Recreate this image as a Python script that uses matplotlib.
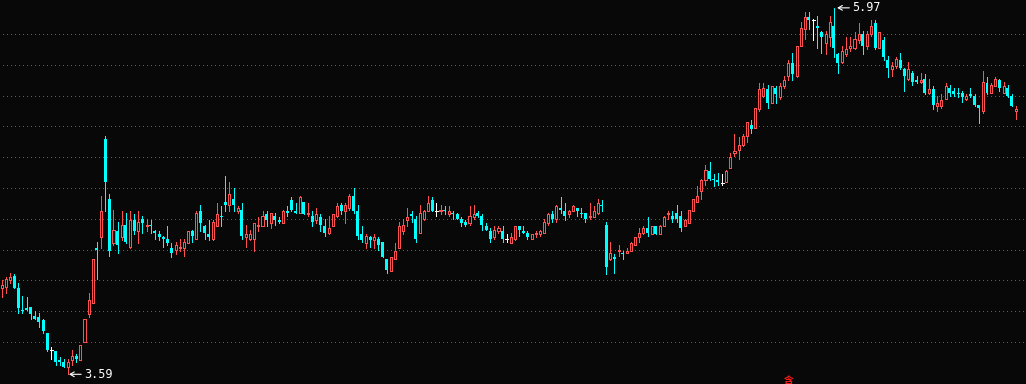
import matplotlib
matplotlib.use("Agg")
import matplotlib.pyplot as plt
from matplotlib.patches import Rectangle

# ----------------------- DATA (daily OHLC) -----------------------
opens = [
    4.15, 4.16, 4.20, 4.23, 4.15, 4.01, 4.02, 4.03, 3.97, 3.96,
    3.94, 3.86, 3.75, 3.74, 3.68, 3.67, 3.64, 3.68, 3.71, 3.68,
    3.80, 3.98, 4.05, 4.41, 4.48, 5.12, 4.73, 4.44, 4.52, 4.48,
    4.56, 4.42, 4.59, 4.52, 4.60, 4.55, 4.56, 4.52, 4.50, 4.48,
    4.47, 4.41, 4.40, 4.41, 4.41, 4.44, 4.52, 4.47, 4.65, 4.55,
    4.50, 4.47, 4.55, 4.62, 4.71, 4.69, 4.73, 4.65, 4.66, 4.48,
    4.47, 4.47, 4.55, 4.55, 4.63, 4.57, 4.62, 4.59, 4.57, 4.65,
    4.72, 4.65, 4.64, 4.71, 4.63, 4.62, 4.59, 4.61, 4.55, 4.51,
    4.55, 4.62, 4.69, 4.65, 4.67, 4.75, 4.65, 4.50, 4.44, 4.48,
    4.46, 4.47, 4.45, 4.34, 4.26, 4.34, 4.41, 4.52, 4.59, 4.63,
    4.60, 4.51, 4.60, 4.65, 4.72, 4.65, 4.65, 4.66, 4.63, 4.64,
    4.63, 4.60, 4.58, 4.57, 4.61, 4.64, 4.62, 4.55, 4.52, 4.48,
    4.52, 4.52, 4.47, 4.44, 4.47, 4.55, 4.52, 4.51, 4.47, 4.50,
    4.50, 4.51, 4.57, 4.63, 4.60, 4.67, 4.65, 4.63, 4.65, 4.67,
    4.64, 4.64, 4.61, 4.61, 4.64, 4.69, 4.56, 4.34, 4.35, 4.39,
    4.38, 4.38, 4.39, 4.43, 4.48, 4.51, 4.54, 4.50, 4.55, 4.50,
    4.55, 4.63, 4.62, 4.64, 4.62, 4.55, 4.57, 4.65, 4.71, 4.78,
    4.85, 4.91, 4.86, 4.85, 4.83, 4.84, 4.93, 5.03, 5.05, 5.08,
    5.14, 5.21, 5.19, 5.31, 5.40, 5.44, 5.35, 5.45, 5.39, 5.46,
    5.53, 5.61, 5.53, 5.72, 5.83, 5.91, 5.89, 5.85, 5.81, 5.74,
    5.78, 5.85, 5.67, 5.62, 5.67, 5.71, 5.71, 5.76, 5.80, 5.72,
    5.80, 5.87, 5.71, 5.76, 5.63, 5.57, 5.59, 5.63, 5.57, 5.51,
    5.55, 5.50, 5.49, 5.51, 5.42, 5.44, 5.33, 5.33, 5.38, 5.45,
    5.43, 5.42, 5.42, 5.38, 5.41, 5.40, 5.34, 5.30, 5.48, 5.42,
    5.46, 5.50, 5.42, 5.45, 5.40, 5.30,
]
highs = [
    4.20, 4.22, 4.25, 4.24, 4.18, 4.10, 4.09, 4.03, 4.00, 3.99,
    3.95, 3.86, 3.77, 3.74, 3.70, 3.69, 3.69, 3.75, 3.72, 3.78,
    3.95, 4.12, 4.34, 4.45, 4.75, 5.14, 4.76, 4.66, 4.58, 4.65,
    4.64, 4.65, 4.63, 4.65, 4.62, 4.60, 4.59, 4.53, 4.52, 4.49,
    4.55, 4.44, 4.45, 4.47, 4.47, 4.52, 4.53, 4.65, 4.69, 4.56,
    4.59, 4.59, 4.70, 4.68, 4.88, 4.84, 4.80, 4.68, 4.70, 4.56,
    4.53, 4.57, 4.61, 4.65, 4.65, 4.64, 4.64, 4.61, 4.66, 4.68,
    4.74, 4.70, 4.75, 4.71, 4.70, 4.65, 4.67, 4.63, 4.60, 4.62,
    4.63, 4.70, 4.70, 4.70, 4.76, 4.80, 4.69, 4.55, 4.50, 4.49,
    4.50, 4.48, 4.45, 4.34, 4.35, 4.44, 4.58, 4.60, 4.67, 4.65,
    4.62, 4.69, 4.66, 4.75, 4.74, 4.70, 4.69, 4.68, 4.68, 4.65,
    4.64, 4.61, 4.59, 4.68, 4.69, 4.65, 4.63, 4.57, 4.54, 4.55,
    4.55, 4.55, 4.50, 4.51, 4.55, 4.55, 4.55, 4.52, 4.50, 4.52,
    4.53, 4.60, 4.64, 4.65, 4.69, 4.74, 4.70, 4.66, 4.69, 4.67,
    4.67, 4.64, 4.70, 4.68, 4.73, 4.72, 4.58, 4.45, 4.37, 4.43,
    4.39, 4.41, 4.45, 4.48, 4.54, 4.55, 4.61, 4.55, 4.55, 4.56,
    4.62, 4.65, 4.65, 4.69, 4.65, 4.60, 4.66, 4.73, 4.81, 4.86,
    4.95, 4.97, 4.89, 4.90, 4.89, 4.92, 5.03, 5.15, 5.13, 5.15,
    5.23, 5.24, 5.32, 5.48, 5.48, 5.47, 5.46, 5.46, 5.48, 5.53,
    5.63, 5.68, 5.72, 5.88, 5.94, 5.94, 5.90, 5.92, 5.82, 5.82,
    5.92, 5.97, 5.68, 5.72, 5.78, 5.78, 5.81, 5.87, 5.82, 5.82,
    5.89, 5.89, 5.81, 5.78, 5.66, 5.62, 5.65, 5.68, 5.58, 5.62,
    5.56, 5.53, 5.55, 5.54, 5.51, 5.46, 5.40, 5.41, 5.48, 5.47,
    5.45, 5.45, 5.43, 5.41, 5.45, 5.41, 5.34, 5.56, 5.52, 5.48,
    5.52, 5.51, 5.49, 5.47, 5.41, 5.33,
]
lows = [
    4.09, 4.12, 4.18, 4.15, 3.99, 3.99, 4.01, 3.95, 3.95, 3.90,
    3.86, 3.74, 3.69, 3.65, 3.65, 3.64, 3.59, 3.65, 3.67, 3.68,
    3.80, 3.96, 4.05, 4.21, 4.41, 4.65, 4.36, 4.43, 4.38, 4.46,
    4.44, 4.41, 4.50, 4.44, 4.51, 4.52, 4.51, 4.47, 4.46, 4.42,
    4.43, 4.35, 4.37, 4.39, 4.36, 4.44, 4.45, 4.47, 4.52, 4.47,
    4.46, 4.46, 4.55, 4.55, 4.65, 4.65, 4.65, 4.64, 4.47, 4.42,
    4.46, 4.39, 4.52, 4.55, 4.55, 4.54, 4.56, 4.57, 4.57, 4.62,
    4.65, 4.64, 4.64, 4.63, 4.62, 4.55, 4.57, 4.52, 4.49, 4.50,
    4.55, 4.61, 4.63, 4.57, 4.66, 4.64, 4.47, 4.45, 4.41, 4.42,
    4.41, 4.40, 4.35, 4.25, 4.26, 4.34, 4.41, 4.50, 4.55, 4.58,
    4.45, 4.51, 4.59, 4.65, 4.65, 4.62, 4.63, 4.63, 4.62, 4.60,
    4.60, 4.55, 4.55, 4.56, 4.60, 4.61, 4.53, 4.53, 4.45, 4.47,
    4.51, 4.45, 4.45, 4.44, 4.46, 4.49, 4.51, 4.47, 4.47, 4.48,
    4.49, 4.51, 4.56, 4.58, 4.58, 4.64, 4.59, 4.61, 4.65, 4.62,
    4.61, 4.58, 4.60, 4.61, 4.63, 4.65, 4.24, 4.33, 4.25, 4.36,
    4.34, 4.38, 4.39, 4.43, 4.45, 4.50, 4.49, 4.50, 4.50, 4.50,
    4.55, 4.60, 4.58, 4.58, 4.52, 4.55, 4.57, 4.65, 4.71, 4.73,
    4.82, 4.85, 4.81, 4.82, 4.82, 4.84, 4.93, 5.01, 4.99, 5.07,
    5.10, 5.16, 5.19, 5.30, 5.39, 5.32, 5.35, 5.35, 5.38, 5.45,
    5.50, 5.50, 5.52, 5.72, 5.77, 5.83, 5.76, 5.71, 5.68, 5.67,
    5.72, 5.65, 5.55, 5.61, 5.66, 5.69, 5.70, 5.74, 5.67, 5.70,
    5.79, 5.70, 5.71, 5.63, 5.52, 5.53, 5.58, 5.57, 5.43, 5.50,
    5.47, 5.48, 5.48, 5.41, 5.41, 5.31, 5.30, 5.32, 5.38, 5.40,
    5.40, 5.39, 5.36, 5.37, 5.39, 5.33, 5.22, 5.29, 5.41, 5.42,
    5.46, 5.43, 5.42, 5.39, 5.33, 5.25,
]
closes = [
    4.17, 4.21, 4.22, 4.15, 4.02, 4.00, 4.01, 3.98, 3.95, 3.93,
    3.87, 3.75, 3.75, 3.67, 3.67, 3.64, 3.67, 3.71, 3.69, 3.78,
    3.95, 4.07, 4.34, 4.40, 4.65, 4.84, 4.39, 4.53, 4.43, 4.56,
    4.45, 4.59, 4.52, 4.58, 4.57, 4.56, 4.55, 4.51, 4.48, 4.47,
    4.44, 4.38, 4.43, 4.42, 4.45, 4.52, 4.49, 4.64, 4.57, 4.51,
    4.48, 4.58, 4.63, 4.61, 4.69, 4.76, 4.69, 4.67, 4.49, 4.50,
    4.50, 4.57, 4.56, 4.62, 4.59, 4.64, 4.59, 4.58, 4.65, 4.64,
    4.66, 4.64, 4.74, 4.63, 4.64, 4.58, 4.63, 4.56, 4.51, 4.54,
    4.63, 4.68, 4.65, 4.69, 4.75, 4.65, 4.49, 4.46, 4.49, 4.46,
    4.48, 4.43, 4.35, 4.27, 4.35, 4.39, 4.55, 4.56, 4.61, 4.62,
    4.47, 4.64, 4.65, 4.70, 4.65, 4.65, 4.66, 4.65, 4.65, 4.63,
    4.60, 4.57, 4.56, 4.62, 4.63, 4.62, 4.56, 4.53, 4.47, 4.53,
    4.54, 4.47, 4.47, 4.48, 4.55, 4.53, 4.51, 4.48, 4.50, 4.51,
    4.52, 4.58, 4.63, 4.60, 4.68, 4.66, 4.62, 4.65, 4.68, 4.65,
    4.63, 4.60, 4.62, 4.65, 4.70, 4.68, 4.29, 4.38, 4.34, 4.40,
    4.37, 4.39, 4.44, 4.48, 4.51, 4.54, 4.51, 4.55, 4.50, 4.55,
    4.61, 4.64, 4.60, 4.60, 4.54, 4.59, 4.66, 4.73, 4.75, 4.85,
    4.92, 4.86, 4.85, 4.84, 4.83, 4.91, 5.00, 5.04, 5.08, 5.14,
    5.23, 5.18, 5.32, 5.44, 5.45, 5.35, 5.46, 5.41, 5.46, 5.50,
    5.61, 5.54, 5.72, 5.84, 5.91, 5.89, 5.89, 5.84, 5.78, 5.80,
    5.88, 5.71, 5.61, 5.69, 5.70, 5.72, 5.77, 5.80, 5.72, 5.80,
    5.85, 5.71, 5.81, 5.65, 5.58, 5.59, 5.64, 5.58, 5.53, 5.57,
    5.49, 5.49, 5.50, 5.42, 5.44, 5.34, 5.35, 5.37, 5.46, 5.42,
    5.41, 5.41, 5.39, 5.40, 5.40, 5.34, 5.32, 5.49, 5.42, 5.47,
    5.51, 5.45, 5.46, 5.40, 5.33, 5.31,
]

grid_levels = [3.8, 4.0, 4.2, 4.4, 4.6, 4.8, 5.0, 5.2, 5.4, 5.6, 5.8]
low_label = "3.59"
high_label = "5.97"
marker_char = "含"
# -------------------------------------------------------------------------------------

BG = "#080808"
UP = "#ff5050"
DOWN = "#00ffff"
FLAT = "#ffffff"
GRID = "#5f5f5f"

n = len(opens)
assert n == len(highs) == len(lows) == len(closes)

fig = plt.figure(figsize=(10.26, 3.84), dpi=100, facecolor=BG)
ax = fig.add_axes([0, 0, 1, 1], facecolor=BG)
ax.set_xlim(-0.41, 247.42)
ax.set_ylim(3.527, 6.021)
ax.axis("off")

# dotted horizontal grid: 1 px dot every 4 px
for lv in grid_levels:
    ax.axhline(lv, xmin=0.003, xmax=1, color=GRID, lw=0.72,
               linestyle=(0, (1, 3)), antialiased=False, zorder=1)

w_fill = 0.72
w_hollow = 0.5
min_h = 0.007
lw = 0.72

for i in range(n):
    o, h, l, c = opens[i], highs[i], lows[i], closes[i]
    top, bot = max(o, c), min(o, c)
    if c > o:
        # hollow red candle, wick stops at the body
        ax.vlines(i, top, max(h, top), color=UP, lw=lw, antialiased=False, zorder=3)
        ax.vlines(i, min(l, bot), bot, color=UP, lw=lw, antialiased=False, zorder=3)
        ax.add_patch(Rectangle((i - w_hollow / 2, bot), w_hollow, max(top - bot, min_h),
                               facecolor=BG, edgecolor=UP, lw=lw, antialiased=False, zorder=4))
    elif c < o:
        ax.vlines(i, min(l, bot), max(h, top), color=DOWN, lw=lw, antialiased=False, zorder=3)
        ax.add_patch(Rectangle((i - w_fill / 2, bot), w_fill, max(top - bot, min_h),
                               facecolor=DOWN, edgecolor="none", antialiased=False, zorder=4))
    else:
        ax.vlines(i, l, h, color=FLAT, lw=lw, antialiased=False, zorder=3)
        ax.hlines(o, i - w_fill / 2, i + w_fill / 2, color=FLAT, lw=lw,
                  antialiased=False, zorder=4)

# high / low price tags
i_lo = min(range(n), key=lambda k: lows[k])
i_hi = max(range(n), key=lambda k: highs[k])
for idx, price, txt, dx in [(i_lo, lows[i_lo], low_label, 0.25),
                            (i_hi, highs[i_hi], high_label, 0.8)]:
    ax.annotate(txt, xy=(idx + dx, price), xytext=(15, 0), textcoords="offset pixels",
                ha="left", va="center", color="white", fontsize=8.5,
                family="DejaVu Sans Mono", zorder=6,
                arrowprops=dict(arrowstyle="->,head_length=0.35,head_width=0.2",
                                color="white", lw=0.8, shrinkA=0, shrinkB=0,
                                relpos=(0, 0.5)))

# small red tag cut off at the bottom edge
ax.text(190, 3.582, marker_char, color="#ff1a1a", fontsize=7, weight="bold",
        family=["Noto Sans CJK SC", "DejaVu Sans"], ha="center", va="top", zorder=6)

fig.savefig("out.png", dpi=100, facecolor=BG)
